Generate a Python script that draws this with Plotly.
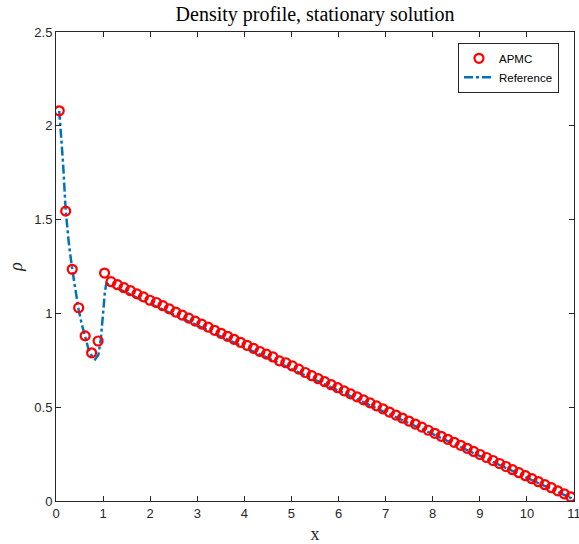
import plotly.graph_objects as go

# APMC cell-centre positions and densities
apmc_x = [0.069, 0.206, 0.344, 0.481, 0.619, 0.756, 0.894, 1.031, 1.169, 1.306,
          1.444, 1.581, 1.719, 1.856, 1.994, 2.131, 2.269, 2.406, 2.544, 2.681,
          2.819, 2.956, 3.094, 3.231, 3.369, 3.506, 3.644, 3.781, 3.919, 4.056,
          4.194, 4.331, 4.469, 4.606, 4.744, 4.881, 5.019, 5.156, 5.294, 5.431,
          5.569, 5.706, 5.844, 5.981, 6.119, 6.256, 6.394, 6.531, 6.669, 6.806,
          6.944, 7.081, 7.219, 7.356, 7.494, 7.631, 7.769, 7.906, 8.044, 8.181,
          8.319, 8.456, 8.594, 8.731, 8.869, 9.006, 9.144, 9.281, 9.419, 9.556,
          9.694, 9.831, 9.969, 10.106, 10.244, 10.381, 10.519, 10.656, 10.794, 10.931]
apmc_rho = [2.080, 1.545, 1.235, 1.030, 0.880, 0.790, 0.853, 1.215, 1.169, 1.153,
            1.137, 1.121, 1.104, 1.088, 1.070, 1.058, 1.041, 1.024, 1.007, 0.991,
            0.975, 0.959, 0.943, 0.927, 0.910, 0.894, 0.878, 0.862, 0.846, 0.830,
            0.814, 0.797, 0.783, 0.768, 0.747, 0.737, 0.720, 0.703, 0.685, 0.668,
            0.652, 0.636, 0.620, 0.604, 0.587, 0.571, 0.555, 0.539, 0.523, 0.507,
            0.491, 0.474, 0.458, 0.442, 0.426, 0.410, 0.394, 0.377, 0.361, 0.345,
            0.329, 0.313, 0.297, 0.281, 0.264, 0.248, 0.232, 0.216, 0.200, 0.184,
            0.167, 0.151, 0.135, 0.119, 0.103, 0.087, 0.071, 0.054, 0.038, 0.022]

# Reference solution
ref_x = [0.069, 0.15, 0.206, 0.27, 0.344, 0.41, 0.481, 0.55, 0.619, 0.69,
         0.756, 0.83, 0.90, 0.95, 1.00, 1.04, 1.07, 11.0]
ref_rho = [2.08, 1.80, 1.55, 1.38, 1.235, 1.12, 1.02, 0.94, 0.87, 0.81,
           0.775, 0.755, 0.78, 0.86, 1.00, 1.12, 1.16, 0.008]

x_ticks = [0, 1, 2, 3, 4, 5, 6, 7, 8, 9, 10, 11]
y_ticks = [0, 0.5, 1, 1.5, 2, 2.5]

axc = "#262626"
serif = "Liberation Serif, DejaVu Serif, serif"
sans = "Liberation Sans, Arial, sans-serif"

fig = go.Figure()
fig.add_trace(go.Scatter(
    x=ref_x, y=ref_rho, mode="lines", name="Reference",
    line=dict(color="#0072BD", width=2.5, dash="dashdot"),
))
fig.add_trace(go.Scatter(
    x=apmc_x, y=apmc_rho, mode="markers", name="APMC",
    marker=dict(symbol="circle-open", size=9, color="#FF0000",
                line=dict(width=2.2, color="#FF0000")),
))

axis_common = dict(
    showline=True, linecolor=axc, linewidth=1, mirror="ticks",
    ticks="inside", ticklen=5, tickcolor=axc, showgrid=False, zeroline=False,
    automargin=False, ticklabeloverflow="allow",
    tickfont=dict(family=sans, size=13, color=axc),
)

fig.update_layout(
    width=579, height=544,
    margin=dict(l=56, r=5, t=32, b=43, autoexpand=False),
    paper_bgcolor="white", plot_bgcolor="white",
    title=dict(text="Density profile, stationary solution",
               x=0.5, xanchor="center", xref="paper",
               y=0.975, yanchor="middle", automargin=False,
               font=dict(family=serif, size=20, color="black")),
    xaxis=dict(range=[0, 11], tickvals=x_ticks, ticktext=[str(t) for t in x_ticks],
               title=dict(text="x", standoff=9,
                          font=dict(family=serif, size=18, color=axc)),
               **axis_common),
    yaxis=dict(range=[0, 2.5], tickvals=y_ticks, ticktext=["0", "0.5", "1", "1.5", "2", "2.5"],
               title=dict(text="<i>ρ</i>", standoff=7,
                          font=dict(family=serif, size=18, color=axc)),
               **axis_common),
    legend=dict(x=0.971, y=0.977, xanchor="right", yanchor="top",
                bgcolor="white", bordercolor=axc, borderwidth=1,
                font=dict(family=sans, size=11.5, color="black"),
                traceorder="reversed", itemwidth=30, tracegroupgap=0,
                entrywidth=76, entrywidthmode="pixels"),
    showlegend=True,
)

fig.write_html(
    "out.html",
    config={"displayModeBar": False},
    post_script="document.body.style.margin='0';document.body.style.padding='0';",
)
